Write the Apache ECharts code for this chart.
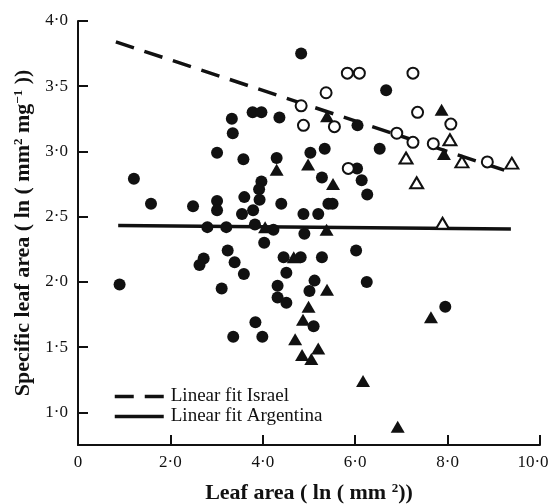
<!DOCTYPE html>
<html>
<head>
<meta charset="utf-8">
<script src="https://cdn.jsdelivr.net/npm/echarts@6/dist/echarts.min.js"></script>
<style>
  html, body { margin: 0; padding: 0; background: #fff; }
  #chart { width: 553px; height: 504px; }
</style>
</head>
<body>
<div id="chart"></div>
<script>
// filled circles
const filledCircles = [
  [4.83, 3.75], [1.21, 2.79], [3.33, 3.25], [3.35, 3.14], [3.78, 3.30],
  [3.97, 3.30], [4.36, 3.26], [3.01, 2.99], [3.58, 2.94], [4.30, 2.95],
  [5.03, 2.99], [5.34, 3.02], [6.67, 3.47], [6.05, 3.20], [6.53, 3.02],
  [5.28, 2.80], [6.04, 2.87], [6.14, 2.78], [6.26, 2.67], [4.40, 2.60],
  [5.42, 2.60], [5.51, 2.60], [4.88, 2.52], [5.20, 2.52], [1.58, 2.60],
  [2.49, 2.58], [3.01, 2.62], [3.01, 2.55], [3.60, 2.65], [3.97, 2.77],
  [3.92, 2.71], [3.93, 2.63], [3.79, 2.55], [3.55, 2.52], [2.80, 2.42],
  [3.21, 2.42], [3.83, 2.44], [4.23, 2.40], [4.90, 2.37], [4.03, 2.30],
  [3.24, 2.24], [2.72, 2.18], [2.63, 2.13], [3.39, 2.15], [3.59, 2.06],
  [4.45, 2.19], [4.82, 2.19], [5.28, 2.19], [6.02, 2.24], [4.51, 2.07],
  [0.90, 1.98], [3.11, 1.95], [4.32, 1.97], [5.12, 2.01], [5.01, 1.93],
  [6.25, 2.00], [4.32, 1.88], [4.51, 1.84], [5.10, 1.66], [3.84, 1.69],
  [3.36, 1.58], [3.99, 1.58], [7.95, 1.81]
];
// filled triangles
const filledTriangles = [
  [4.30, 2.86], [4.98, 2.90], [5.39, 3.27], [5.52, 2.75], [7.87, 3.32],
  [7.92, 2.98], [4.05, 2.42], [5.38, 2.40], [4.67, 2.19], [5.39, 1.94],
  [4.99, 1.81], [4.87, 1.71], [4.70, 1.56], [4.85, 1.44], [5.05, 1.41],
  [5.20, 1.49], [7.64, 1.73], [6.17, 1.24], [6.92, 0.89]
];
// open circles
const openCircles = [
  [4.83, 3.35], [4.88, 3.20], [5.37, 3.45], [5.55, 3.19], [5.83, 3.60],
  [6.09, 3.60], [7.25, 3.60], [7.35, 3.30], [6.90, 3.14], [7.25, 3.07],
  [7.69, 3.06], [8.07, 3.21], [8.86, 2.92], [5.85, 2.87]
];
// open triangles
const openTriangles = [
  [8.05, 3.09], [7.10, 2.95], [8.31, 2.92], [9.39, 2.91], [7.33, 2.76],
  [7.89, 2.45]
];
// fitted lines (end points)
const fitIsrael = [[0.82, 3.84], [9.28, 2.85]];
const fitArgentina = [[0.87, 2.433], [9.37, 2.405]];

const xTicks = [0, 2, 4, 6, 8, 10];
const yTicks = [1.0, 1.5, 2.0, 2.5, 3.0, 3.5, 4.0];

const ink = '#111';
const serif = '"Liberation Serif", "DejaVu Serif", serif';
const dash = [19, 11];

const dot = (v) => v.toFixed(1).replace('.', '·');
// last label sits a bit left of its tick, as in the original
const fmtX = (v) => (v === 0 ? '0' : v === 10 ? '{m|' + dot(v) + '}' : dot(v));

const titleRich = {
  b: { fontFamily: serif, fontSize: 22, fontWeight: 'bold', color: ink },
  s: { fontFamily: serif, fontSize: 13, fontWeight: 'bold', color: ink, verticalAlign: 'top', padding: [0, 0, 9, 0] }
};

const chart = echarts.init(document.getElementById('chart'));

chart.setOption({
  animation: false,
  backgroundColor: '#fff',
  textStyle: { fontFamily: serif, color: ink },
  grid: { left: 78, right: 13, top: 21, bottom: 59, outerBoundsMode: 'none' },
  legend: {
    data: [
      { name: 'Linear fit Israel', itemStyle: { opacity: 0 }, lineStyle: { type: dash, width: 3.5, color: ink } },
      { name: 'Linear fit Argentina', itemStyle: { opacity: 0 }, lineStyle: { type: 'solid', width: 3.5, color: ink } }
    ],
    orient: 'vertical',
    left: 113,
    top: 387,
    padding: 0,
    itemWidth: 49,
    itemHeight: 14,
    itemGap: 1,
    textStyle: { fontFamily: serif, fontSize: 19, color: ink, padding: [0, 0, 0, 2] }
  },
  xAxis: {
    type: 'value',
    min: 0,
    max: 10,
    interval: 2,
    splitLine: { show: false },
    axisLine: { lineStyle: { color: ink, width: 2 } },
    axisTick: { inside: true, length: 10, lineStyle: { color: ink, width: 2 } },
    axisLabel: {
      customValues: xTicks,
      formatter: fmtX,
      fontFamily: serif,
      fontSize: 17,
      color: ink,
      margin: 9,
      rich: {
        m: { fontFamily: serif, fontSize: 17, color: ink, padding: [0, 14, 0, 0] }
      }
    },
    name: '{b|Leaf area ( ln ( mm }{s|2}{b|))}',
    nameLocation: 'middle',
    nameGap: 37,
    nameTextStyle: { rich: titleRich }
  },
  yAxis: {
    type: 'value',
    min: 0.75,
    max: 4.0,
    splitLine: { show: false },
    axisLine: { lineStyle: { color: ink, width: 2 } },
    axisTick: {
      inside: true,
      length: 10,
      customValues: yTicks,
      lineStyle: { color: ink, width: 2 }
    },
    axisLabel: {
      customValues: yTicks,
      formatter: dot,
      fontFamily: serif,
      fontSize: 17,
      color: ink,
      margin: 10
    },
    name: '{b|Specific leaf area ( ln ( mm}{s|2}{b| mg}{s|−1}{b| ))}',
    nameLocation: 'middle',
    nameGap: 40,
    nameTextStyle: { rich: titleRich }
  },
  series: [
    {
      name: 'Linear fit Israel',
      type: 'line',
      data: fitIsrael,
      symbol: 'none',
      z: 1,
      lineStyle: { color: ink, width: 3.5, type: dash },
      itemStyle: { color: ink }
    },
    {
      name: 'Linear fit Argentina',
      type: 'line',
      data: fitArgentina,
      symbol: 'none',
      z: 1,
      lineStyle: { color: ink, width: 3.5 },
      itemStyle: { color: ink }
    },
    {
      name: 'Argentina circles',
      type: 'scatter',
      data: filledCircles,
      symbol: 'circle',
      symbolSize: 12,
      z: 3,
      itemStyle: { color: ink, opacity: 1 }
    },
    {
      name: 'Argentina triangles',
      type: 'scatter',
      data: filledTriangles,
      symbol: 'triangle',
      symbolSize: [14, 12],
      z: 3,
      itemStyle: { color: ink, opacity: 1 }
    },
    {
      name: 'Israel circles',
      type: 'scatter',
      data: openCircles,
      symbol: 'circle',
      symbolSize: 11,
      z: 3,
      itemStyle: { color: '#fff', borderColor: ink, borderWidth: 2, opacity: 1 }
    },
    {
      name: 'Israel triangles',
      type: 'scatter',
      data: openTriangles,
      symbol: 'triangle',
      symbolSize: [13, 11],
      z: 3,
      itemStyle: { color: '#fff', borderColor: ink, borderWidth: 2, opacity: 1 }
    }
  ]
});
</script>
</body>
</html>
